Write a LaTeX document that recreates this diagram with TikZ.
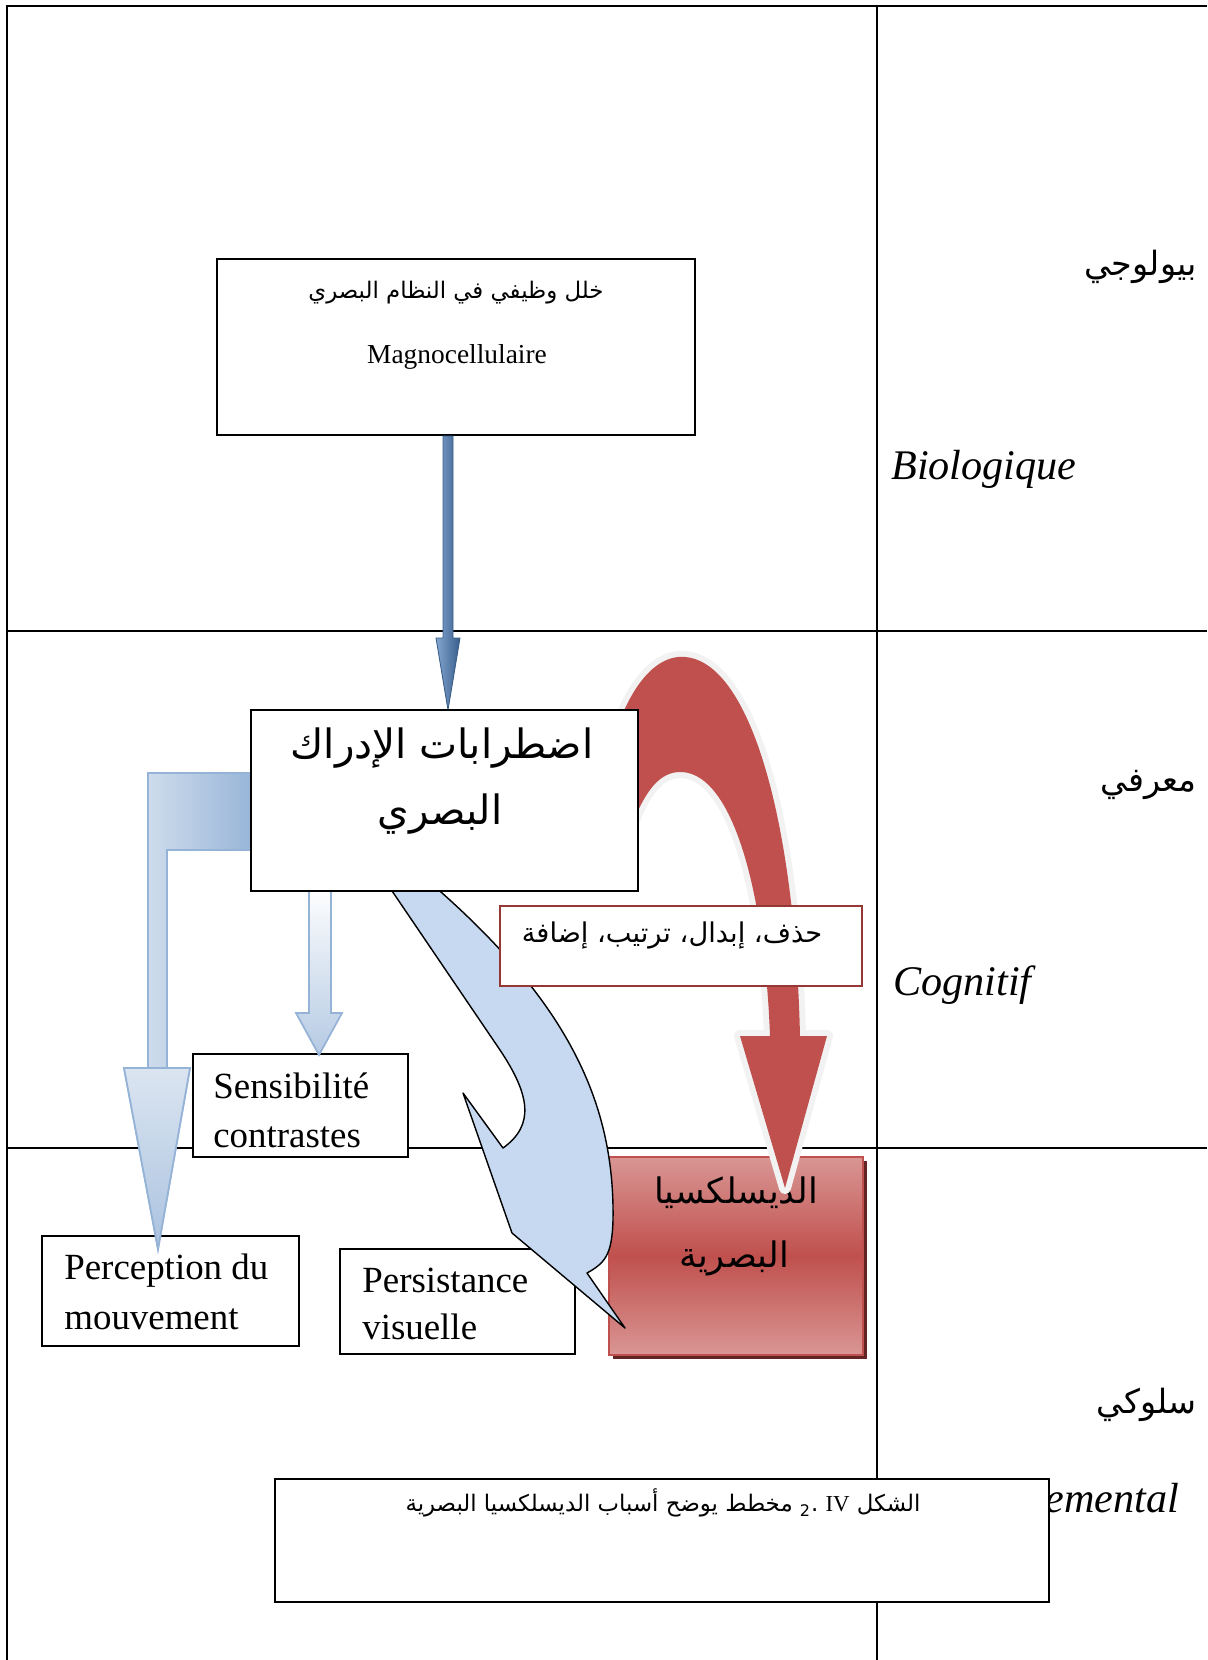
\documentclass[tikz,border=0pt]{standalone}
\usepackage{fontspec}
\setmainfont{Liberation Serif}
\newfontfamily\arabicfont[Script=Arabic]{DejaVu Sans}
\TeXXeTstate=1
\definecolor{accblue}{HTML}{4F81BD}
\definecolor{darkblue}{HTML}{385D8A}
\definecolor{paleblue}{HTML}{C6D9F1}
\definecolor{lineblue}{HTML}{95B3D7}
\definecolor{lightblue}{HTML}{DBE5F1}
\definecolor{accred}{HTML}{C0504D}
\definecolor{palered}{HTML}{D99694}
\definecolor{darkred}{HTML}{953735}
\definecolor{shadowred}{HTML}{632523}
\definecolor{glow}{HTML}{F2F2F2}

\begin{document}
\begin{tikzpicture}[x=0.02cm,y=-0.02cm,
    box/.style={draw,line width=1.1pt,fill=white,inner sep=0pt},
    txt/.style={inner sep=0pt,font=\fontsize{21}{28}\selectfont},
    lab/.style={inner sep=0pt,font=\itshape\fontsize{24}{28}\selectfont},
    ar/.style={inner sep=0pt,font=\arabicfont\fontsize{#1}{#1}\selectfont}]
    \useasboundingbox (0,0) rectangle (1207,1660);
    % table
    \draw[line width=1.1pt] (7,1660) -- (7,6) -- (1207,6);
    \draw[line width=0.8pt] (877,6) -- (877,1660);
    \draw[line width=0.8pt] (7,631) -- (1207,631);
    \draw[line width=0.8pt] (7,1148) -- (1207,1148);
    \node[ar=19,anchor=east] (biolar) at (1197,267) {\beginR بيولوجي\endR};
    \node[lab,anchor=base west] (biolfr) at (891,479) {Biologique};
    \node[ar=19,anchor=east] (cognar) at (1197,785) {\beginR معرفي\endR};
    \node[lab,anchor=base west] (cognfr) at (893,995) {Cognitif};
    \node[ar=19,anchor=east] (compar) at (1197,1405) {\beginR سلوكي\endR};
    \node[lab,anchor=base west] (compfr) at (895,1512) {Comportemental};
    % boxes
    \node[box,minimum width=9.56cm,minimum height=3.52cm] (magno) at (456,347) {};
    \node[ar=13] (magnoar) at (456,293) {\beginR خلل وظيفي في النظام البصري\endR};
    \node[inner sep=0pt,anchor=base,font=\fontsize{15.6}{18}\selectfont] (magnofr) at (457,363) {Magnocellulaire};
    \fill[shadowred] (613,1161) rectangle (867,1359);
    \node[draw=accred,line width=1pt,inner sep=0pt,top color=palered,bottom color=palered,middle color=accred,
        minimum width=5.08cm,minimum height=3.96cm] (dys) at (736,1256) {};
    \node[ar=20] (dys1) at (736,1193) {\beginR الديسلكسيا\endR};
    \node[ar=20] (dys2) at (734,1258) {\beginR البصرية\endR};
    \fill[accred,preaction={draw=glow,line width=0.24cm,line join=round}]
        (620,720) .. controls (640,670) and (665,655) .. (685,657)
        .. controls (750,662) and (795,820) .. (800,1036)
        -- (827,1036) -- (785,1188) -- (740,1036) -- (770,1036)
        .. controls (765,900) and (735,775) .. (682,772)
        .. controls (660,771) and (645,790) .. (630,830) -- cycle;
    \path[draw=darkblue,line width=0.5pt,left color=accblue!70!white,right color=darkblue]
        (443,436) -- (453,436) -- (453,638) -- (460,638) -- (448,710) -- (436,638) -- (443,638) -- cycle;
    \node[box,minimum width=4.3cm,minimum height=2.06cm] (sens) at (300.5,1105.5) {};
    \node[txt,anchor=base west] (sens1) at (213,1098) {Sensibilité};
    \node[txt,anchor=base west] (sens2) at (213,1147) {contrastes};
    \node[box,minimum width=5.14cm,minimum height=2.2cm] (mouv) at (170.5,1291) {};
    \node[txt,anchor=base west] (mouv1) at (64,1279) {Perception du};
    \node[txt,anchor=base west] (mouv2) at (64,1329) {mouvement};
    \node[box,minimum width=4.7cm,minimum height=2.1cm] (pers) at (457.5,1301.5) {};
    \node[txt,anchor=base west] (pers1) at (362,1292) {Persistance};
    \node[txt,anchor=base west] (pers2) at (362,1339) {visuelle};
    \path[draw=lineblue,line width=1pt,left color=lightblue,right color=lineblue]
        (258,773) -- (148,773) -- (148,1068) -- (124,1068) -- (158,1249) -- (190,1068)
        -- (167,1068) -- (167,850) -- (258,850);
    \path[draw=lineblue,line width=1pt,top color=lightblue,bottom color=lineblue!80!white]
        (148,1068) -- (124,1068) -- (158,1249) -- (190,1068) -- cycle;
    \path[draw=lineblue,line width=1pt,top color=white,bottom color=lineblue!70!white]
        (309,885) -- (309,1013) -- (296,1013) -- (319,1055) -- (342,1013) -- (331,1013) -- (331,885);
    \path[draw,line width=0.8pt,fill=paleblue,line join=round]
        (388,885) -- (500,1050) .. controls (530,1095) and (535,1125) .. (503,1148)
        -- (463,1093) -- (512,1233) -- (625,1328) -- (587,1273)
        .. controls (605,1263) and (612,1255) .. (613,1220)
        .. controls (615,1100) and (565,1000) .. (433,885) -- cycle;
    \node[box,minimum width=7.74cm,minimum height=3.62cm] (percep) at (444.5,800.5) {};
    \node[ar=23] (percep1) at (442,748) {\beginR اضطرابات الإدراك\endR};
    \node[ar=23] (percep2) at (440,814) {\beginR البصري\endR};
    \node[draw=darkred,line width=1pt,fill=white,inner sep=0pt,minimum width=7.24cm,minimum height=1.6cm] (ops) at (681,946) {};
    \node[ar=15.5] (opstxt) at (672,935) {\beginR حذف، إبدال، ترتيب، إضافة\endR};
    \node[box,line width=0.9pt,minimum width=15.48cm,minimum height=2.46cm] (cap) at (662,1540.5) {};
    \node[ar=13] (captxt) at (663,1503) {\beginR الشكل \beginL{\rmfamily IV}\endL{} .\textsubscript{2} مخطط يوضح أسباب الديسلكسيا البصرية\endR};
\end{tikzpicture}
\end{document}
